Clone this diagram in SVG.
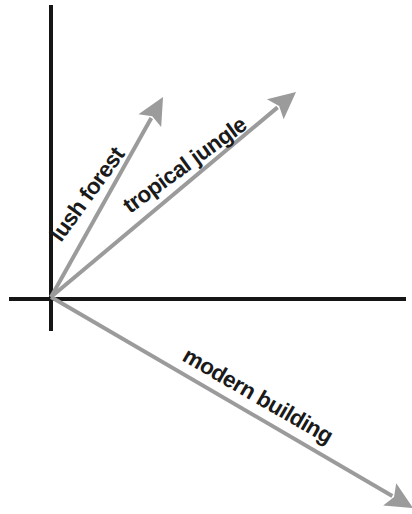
<svg xmlns="http://www.w3.org/2000/svg" width="412" height="514" viewBox="0 0 412 514">
<style>
.axis{stroke:#151515;stroke-width:4;fill:none}
.vec{stroke:#9b9b9b;stroke-width:4;fill:none}
.lbl{font-family:"Liberation Sans",Arial,Helvetica,sans-serif;font-weight:bold;font-size:22.5px;letter-spacing:-0.5px;fill:#1a1a1a}
</style>
<defs>
<marker id="ah" markerUnits="userSpaceOnUse" markerWidth="40" markerHeight="40" viewBox="-10 -20 40 40" refX="0" refY="0" orient="auto">
<path d="M24,0 L-3,-13 L2,0 L-3,13 Z" fill="#9b9b9b"/>
</marker>
</defs>
<g id="axes">
<line class="axis" x1="51" y1="5" x2="51" y2="331"/>
<line class="axis" x1="9" y1="299" x2="406" y2="299"/>
</g>
<g id="connectors">
<line class="vec" x1="51" y1="297" x2="151.3" y2="118" marker-end="url(#ah)"/>
<line class="vec" x1="51" y1="297" x2="277.6" y2="107.4" marker-end="url(#ah)"/>
<line class="vec" x1="51" y1="297" x2="392.3" y2="495.9" marker-end="url(#ah)"/>
</g>
<g id="label-lush"><text class="lbl" font-size="22" transform="translate(61,243) rotate(-54)">lush forest</text></g>
<g id="label-tropical"><text class="lbl" transform="translate(130,214) rotate(-36)">tropical jungle</text></g>
<g id="label-modern"><text class="lbl" transform="translate(181,360) rotate(30)">modern building</text></g>
</svg>
